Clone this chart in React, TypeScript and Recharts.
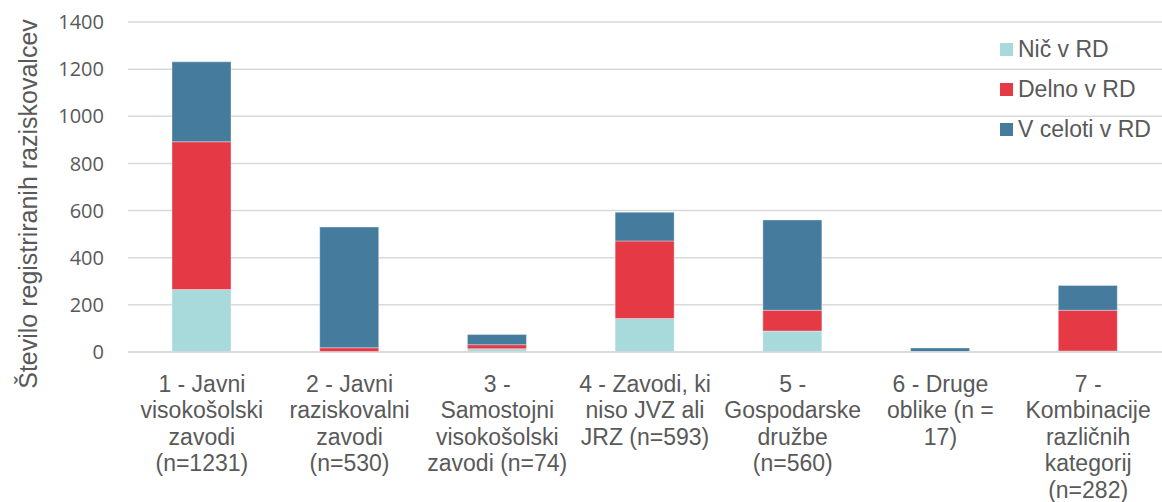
import { BarChart, Bar, XAxis, YAxis, CartesianGrid } from 'recharts'

const categories = [
  '1 - Javni\nvisokošolski\nzavodi\n(n=1231)',
  '2 - Javni\nraziskovalni\nzavodi\n(n=530)',
  '3 -\nSamostojni\nvisokošolski\nzavodi (n=74)',
  '4 - Zavodi, ki\nniso JVZ ali\nJRZ (n=593)',
  '5 -\nGospodarske\ndružbe\n(n=560)',
  '6 - Druge\noblike (n =\n17)',
  '7 -\nKombinacije\nrazličnih\nkategorij\n(n=282)',
]
const nic = [265, 0, 14, 142, 89, 1, 4]
const delno = [627, 18, 17, 329, 88, 1, 173]
const vCeloti = [339, 512, 43, 122, 383, 15, 105]
const yTicks = [0, 200, 400, 600, 800, 1000, 1200, 1400]

const series = [
  { key: 'nic', name: 'Nič v RD', color: '#a8d9db' },
  { key: 'delno', name: 'Delno v RD', color: '#e63946' },
  { key: 'vCeloti', name: 'V celoti v RD', color: '#457b9d' },
]

const data = categories.map((cat, i) => ({
  cat,
  nic: nic[i],
  delno: delno[i],
  vCeloti: vCeloti[i],
}))

const TEXT = '#595959'
const ARIAL = '"Liberation Sans", Arial, sans-serif'

function CategoryTick({ x, y, payload }: any) {
  const lines = String(payload.value).split('\n')
  return (
    <text x={x} y={y + 38} textAnchor="middle" fill={TEXT} fontSize={23} fontFamily={ARIAL}>
      {lines.map((l, i) => (
        <tspan key={i} x={x} dy={i === 0 ? 0 : 26.4}>{l}</tspan>
      ))}
    </text>
  )
}

// legend sits over the plot, so keep it out of recharts' layout
function LegendBox() {
  return (
    <div style={{ position: 'absolute', left: 1000, top: 29, fontFamily: ARIAL, fontSize: 23, color: TEXT }}>
      {series.map(s => (
        <div key={s.key} style={{ display: 'flex', alignItems: 'center', height: 40, whiteSpace: 'nowrap' }}>
          <span style={{ width: 13, height: 13, background: s.color, marginRight: 5, display: 'inline-block' }} />
          {s.name}
        </div>
      ))}
    </div>
  )
}

export default function App() {
  return (
    <div style={{ position: 'absolute', left: 0, top: 0, width: 1162, height: 502, background: '#fff' }}>
      <BarChart
        width={1162}
        height={502}
        data={data}
        margin={{ top: 22, right: 0, bottom: 0, left: 0 }}
        barCategoryGap={0}
      >
        <CartesianGrid vertical={false} stroke="#d9d9d9" strokeWidth={1.5} />
        <XAxis
          dataKey="cat"
          height={150}
          interval={0}
          tickLine={false}
          axisLine={{ stroke: '#d9d9d9', strokeWidth: 1.5 }}
          tickSize={0}
          tick={<CategoryTick />}
        />
        <YAxis
          width={128}
          domain={[0, 1400]}
          ticks={yTicks}
          tickLine={false}
          axisLine={false}
          tickSize={0}
          tickMargin={24}
          tick={{ fill: TEXT, fontSize: 20, fontFamily: '"Open Sans", sans-serif' }}
          label={{
            value: 'Število registriranih raziskovalcev',
            angle: -90,
            position: 'insideLeft',
            dx: 23,
            dy: 17,
            style: { textAnchor: 'middle', fill: TEXT, fontSize: 25, fontFamily: ARIAL },
          }}
        />
        {series.map(s => (
          <Bar
            key={s.key}
            dataKey={s.key}
            name={s.name}
            stackId="a"
            fill={s.color}
            stroke="rgba(255,255,255,0.35)"
            strokeWidth={1}
            barSize={59}
            isAnimationActive={false}
          />
        ))}
      </BarChart>
      <LegendBox />
    </div>
  )
}
